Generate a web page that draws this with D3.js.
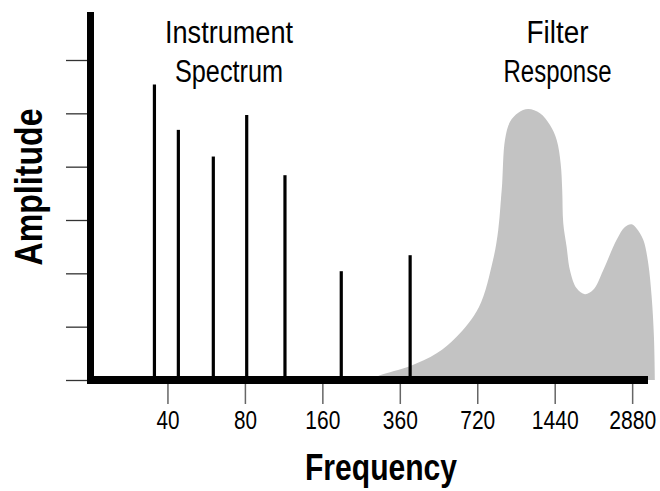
<!DOCTYPE html>
<html><head><meta charset="utf-8">
<script src="https://cdn.jsdelivr.net/npm/d3@7"></script>
<style>
html,body{margin:0;padding:0;background:#fff;}
svg{display:block;}
text{font-family:"Liberation Sans",Arial,sans-serif;fill:#000;}
</style></head>
<body>
<svg id="chart" width="660" height="491"></svg>
<script>
// Spectral lines of the instrument (frequency in Hz, amplitude in tick units)
const lineFreqs = [35.6, 44.1, 60.3, 81.3, 114.5, 189.5, 351];
const lineAmps  = [5.54, 4.69, 4.19, 4.97, 3.84, 2.04, 2.34];
// Filter response outline
const filterFreqs = [245, 268, 350, 445, 532, 650, 737, 772, 791, 800, 820, 858, 924, 1010, 1122, 1227, 1303, 1350, 1369, 1382, 1424, 1467, 1558, 1678, 1807, 1976, 2228, 2400, 2548, 2664, 2827, 2956, 3048, 3111, 3138];
const filterAmps  = [0, 0.09, 0.26, 0.50, 0.81, 1.37, 2.25, 2.81, 3.38, 3.69, 4.5, 4.84, 5.01, 5.08, 5.0, 4.78, 4.5, 4.06, 3.56, 2.94, 2.5, 2.06, 1.72, 1.61, 1.69, 2.06, 2.63, 2.87, 2.92, 2.84, 2.63, 2.19, 1.56, 0.81, 0];
// Axis ticks
const xTickValues = [40, 80, 160, 320, 640, 1280, 2560];
const xTickLabels = ["40", "80", "160", "360", "720", "1440", "2880"];
const yTickValues = [0, 1, 2, 3, 4, 5, 6];

const svg = d3.select("#chart");
const x = d3.scaleLog().base(2).domain([20, 2950]).range([90, 648]);
const y = d3.scaleLinear().domain([0, 6.9]).range([380, 12]);

// filter response area
const area = d3.area()
  .x((d, i) => x(filterFreqs[i]))
  .y0(y(0))
  .y1((d, i) => y(filterAmps[i]))
  .curve(d3.curveCatmullRom.alpha(0.5));
svg.append("path").datum(filterAmps).attr("d", area).attr("fill", "#c3c3c3");

// y ticks
const yAxis = d3.axisLeft(y).tickValues(yTickValues).tickSize(22).tickFormat("");
const gy = svg.append("g").attr("transform", "translate(88,0)").call(yAxis);
gy.select(".domain").remove();
gy.selectAll(".tick line").attr("stroke", "#333").attr("stroke-width", 1.3);

// x ticks
const xAxis = d3.axisBottom(x).tickValues(xTickValues).tickSize(20)
  .tickFormat((d, i) => xTickLabels[i]).tickPadding(7);
const gx = svg.append("g").attr("transform", "translate(0,384)").call(xAxis);
gx.select(".domain").remove();
gx.selectAll(".tick line").attr("stroke", "#666").attr("stroke-width", 1.5);
gx.selectAll(".tick text").attr("font-size", 26).attr("font-family", null).attr("fill", "#000")
  .attr("textLength", (d, i) => 12 * xTickLabels[i].length - 1)
  .attr("lengthAdjust", "spacingAndGlyphs");

// spectral lines
svg.append("g").selectAll("line").data(lineAmps).join("line")
  .attr("x1", (d, i) => x(lineFreqs[i])).attr("x2", (d, i) => x(lineFreqs[i]))
  .attr("y1", y(0)).attr("y2", d => y(d))
  .attr("stroke", "#000").attr("stroke-width", 3.2);

// axis lines
svg.append("line").attr("x1", 90.5).attr("x2", 90.5).attr("y1", y(6.9)).attr("y2", 384)
  .attr("stroke", "#000").attr("stroke-width", 7);
svg.append("line").attr("x1", 87).attr("x2", 648).attr("y1", 380).attr("y2", 380)
  .attr("stroke", "#000").attr("stroke-width", 8);

// titles
function label(txt, cx, cy, size, len, bold) {
  svg.append("text").attr("text-anchor", "middle").attr("font-size", size)
    .attr("font-weight", bold ? "bold" : "normal")
    .attr("x", cx).attr("y", cy).attr("textLength", len)
    .attr("lengthAdjust", "spacingAndGlyphs").text(txt);
}
label("Instrument", 229, 43, 31, 128, false);
label("Spectrum", 229, 82, 31, 108, false);
label("Filter", 557.5, 43, 31, 62, false);
label("Response", 557.5, 82, 31, 108, false);
label("Frequency", 381, 480, 37, 152, true);

svg.append("text").attr("text-anchor", "middle").attr("font-size", 39).attr("font-weight", "bold")
  .attr("transform", "translate(42,187) rotate(-90)")
  .attr("textLength", 157).attr("lengthAdjust", "spacingAndGlyphs").text("Amplitude");
</script>
</body></html>
